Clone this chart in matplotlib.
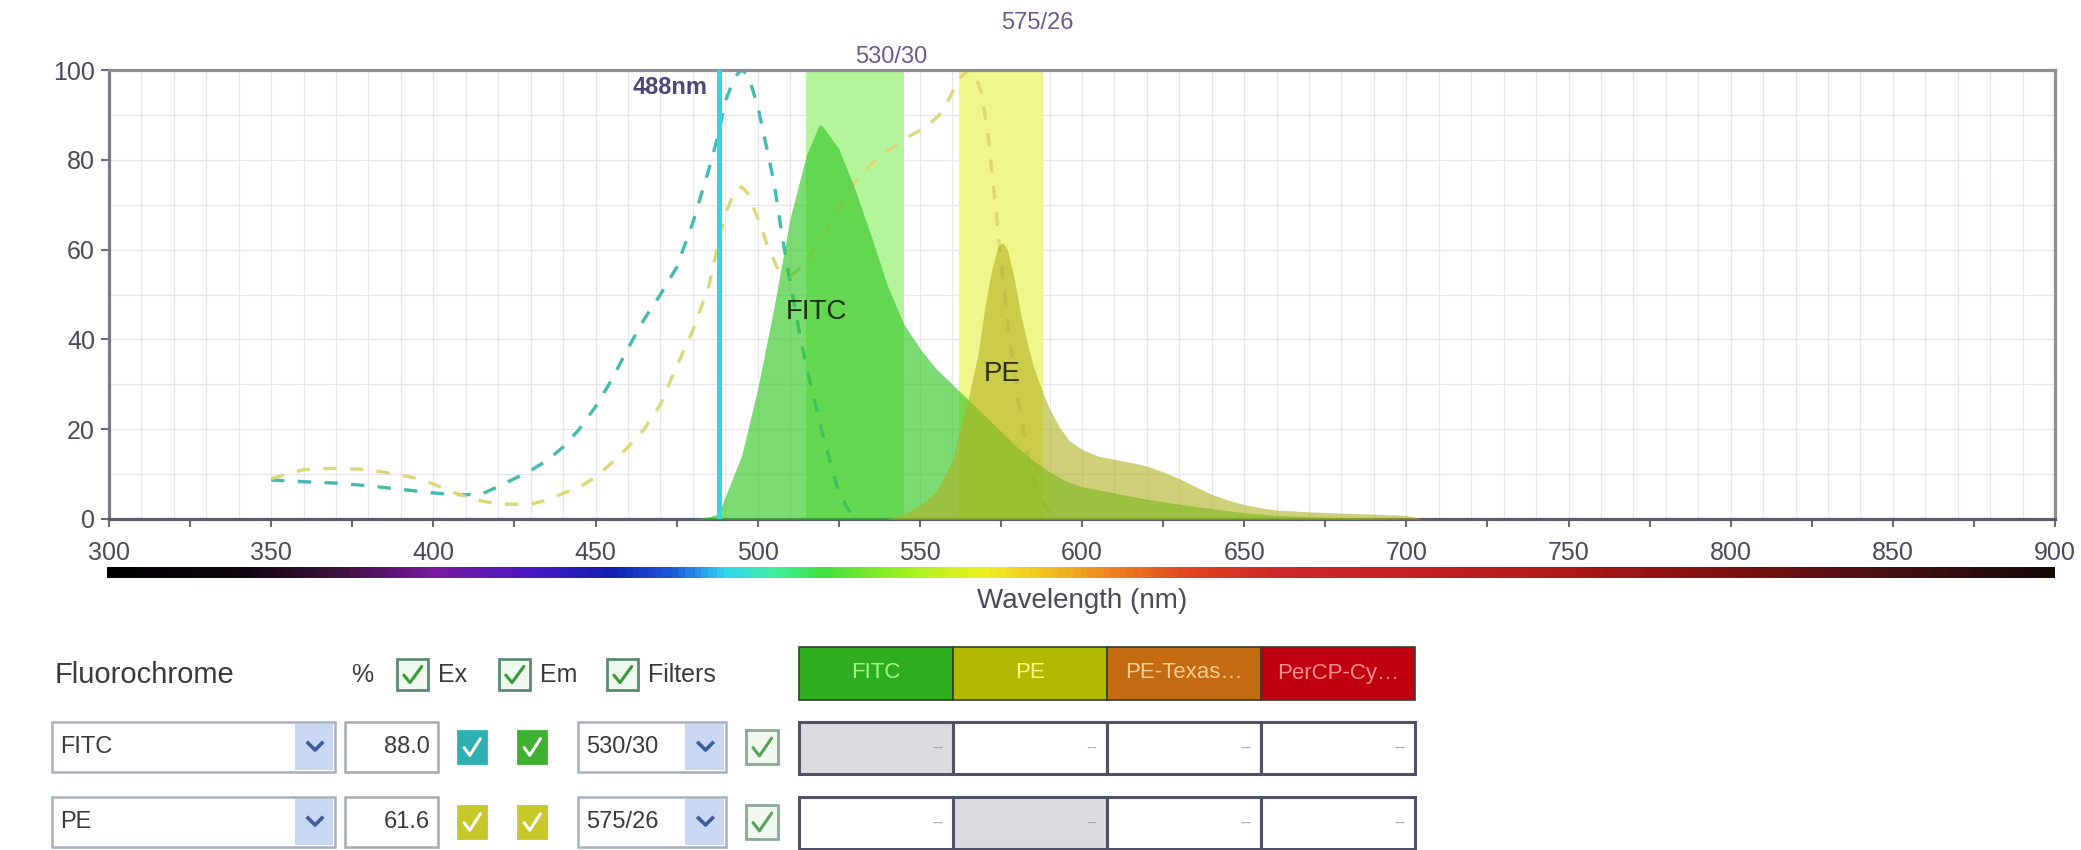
import numpy as np
import matplotlib
matplotlib.use("Agg")
import matplotlib.pyplot as plt
from matplotlib.patches import Rectangle
from matplotlib.colors import LinearSegmentedColormap
from matplotlib.ticker import MultipleLocator, FuncFormatter
import matplotlib.transforms as mtransforms

plt.rcParams['font.family'] = ['Liberation Sans', 'DejaVu Sans']

# ---------------- data ----------------
fitc_em_nm = [480, 485, 488, 490, 495, 500, 505, 510, 515, 519, 520, 525, 530, 535, 540,
              545, 550, 555, 560, 565, 570, 575, 580, 585, 590, 595, 600, 610, 620, 630,
              640, 650, 660, 670, 680, 690, 700]
fitc_em = [0, 0.5, 1.2, 5, 14, 29, 47, 67, 81, 87.8, 87.5, 82.5, 73.5, 63, 52,
           43.5, 38, 33.5, 30, 26.5, 23, 19.5, 16, 13, 10.5, 8.5, 7.2, 5.8, 4.4, 3.3,
           2.3, 1.4, 0.8, 0.5, 0.3, 0.2, 0]

pe_em_nm = [540, 545, 550, 555, 560, 565, 568, 570, 572, 574, 575.5, 577, 579, 581, 583,
            585, 588, 590, 593, 596, 600, 605, 610, 615, 620, 625, 630, 635, 640, 645,
            650, 655, 660, 670, 680, 690, 700, 705]
pe_em = [0, 1, 3, 6, 13, 27, 37, 47, 55, 60.5, 61.6, 60, 54, 46, 39.5,
         34, 28, 24.5, 20.5, 17.5, 15.5, 14, 13.3, 12.6, 11.8, 10.5, 9, 7.2, 5.5, 4.2,
         3.2, 2.5, 2, 1.6, 1.3, 1.1, 0.8, 0]

fitc_ex_nm = [350, 360, 370, 380, 390, 400, 405, 410, 415, 420, 425, 430, 435, 440, 445,
              450, 455, 460, 465, 470, 475, 480, 485, 488, 490, 493, 495, 497, 500, 503,
              505, 508, 510, 513, 515, 518, 520, 523, 525, 528, 530]
fitc_ex = [8.7, 8.3, 8.0, 7.4, 6.6, 5.8, 5.5, 5.4, 5.6, 7.2, 9, 10.8, 13, 16, 20,
           25, 31, 38, 44.5, 50, 56, 66, 78, 86, 93, 98.5, 100, 99, 92, 82,
           75, 61, 53, 41, 34, 25, 19, 11, 6, 2, 0.5]

pe_ex_nm = [350, 360, 370, 380, 390, 395, 400, 405, 410, 415, 420, 430, 435, 440, 445,
            450, 455, 460, 465, 470, 475, 480, 485, 488, 490, 493, 495, 497, 500, 503,
            506, 510, 515, 520, 525, 530, 535, 540, 546, 550, 553, 556, 559, 562, 565,
            567, 569, 571, 573, 575, 577, 580, 583, 586, 590, 595]
pe_ex = [9, 11, 11.3, 11, 9.8, 9, 7.8, 6.2, 5, 4, 3.3, 3.3, 4.2, 5.7, 7.1,
         9.3, 12.5, 16, 20, 25.5, 34, 42, 52, 62, 68, 73, 74, 72.5, 67, 61,
         56, 54, 57, 63, 69, 75, 79, 82, 85, 86.5, 88, 90, 93.5, 98, 100,
         99, 95, 86, 72, 58, 44, 28, 15, 6, 1.5, 0]

laser_nm = 488
laser_label = "488nm"
filter_names = ["530/30", "575/26"]
filter_centers = [530, 575]
filter_widths = [30, 26]

dye_names = ["FITC", "PE"]
dye_percent = [88.0, 61.6]
dye_filters = ["530/30", "575/26"]
matrix_dyes = ["FITC", "PE", "PE-Texas…", "PerCP-Cy…"]

# ---------------- figure ----------------
W, H = 2081, 850
fig = plt.figure(figsize=(W / 100, H / 100), dpi=100)
fig.patch.set_facecolor('white')


def px_axes(x0, y0, x1, y1):
    return fig.add_axes([x0 / W, 1 - y1 / H, (x1 - x0) / W, (y1 - y0) / H])


# UI overlay (layout only)
ui = fig.add_axes([0, 0, 1, 1])
ui.set_xlim(0, W)
ui.set_ylim(H, 0)
ui.axis('off')

ax = px_axes(109, 70, 2055, 519)
ax.set_xlim(300, 900)
ax.set_ylim(0, 100)

# filter bands
band_colors = ['#b4f59c', '#f1f68a']
for name, c, w, col in zip(filter_names, filter_centers, filter_widths, band_colors):
    ax.axvspan(c - w / 2, c + w / 2, color=col, lw=0, zorder=1)

blend = mtransforms.blended_transform_factory(ax.transData, ax.transAxes)
label_y = [1.016, 1.092]
for name, c, yy in zip(filter_names, filter_centers, label_y):
    ax.text(c, yy, name, transform=blend, ha='left', va='baseline',
            fontsize=17, color='#6a5a8a', clip_on=False)

# excitation (dashed)
ax.plot(fitc_ex_nm, fitc_ex, ls=(0, (4, 4)), lw=2.4, color='#45b9b4', zorder=2)
ax.plot(pe_ex_nm, pe_ex, ls=(0, (4, 4)), lw=2.4, color='#dcd878', zorder=2)

# emission fills
ax.fill_between(fitc_em_nm, fitc_em, 0, color='#38c828', alpha=0.65, lw=0, zorder=3)
ax.fill_between(pe_em_nm, pe_em, 0, color='#b0b020', alpha=0.60, lw=0, zorder=4)

ax.text(518, 46, "FITC", ha='center', va='center', fontsize=20, color='#1e2e10', zorder=6)
ax.text(575.3, 32.4, "PE", ha='center', va='center', fontsize=20, color='#2e2e10', zorder=6)

# laser line
ax.axvline(laser_nm, color='#2ed6e6', lw=3.6, zorder=5)
ax.text(laser_nm - 3.5, 94.6, laser_label, ha='right', va='baseline', fontsize=17,
        color='#4e4476', fontweight='bold', zorder=6)

# ticks & grid
ax.xaxis.set_major_locator(MultipleLocator(25))
ax.xaxis.set_minor_locator(MultipleLocator(10))
ax.xaxis.set_major_formatter(FuncFormatter(lambda v, p: f"{int(round(v))}" if round(v) % 50 == 0 else ""))
ax.yaxis.set_major_locator(MultipleLocator(20))
ax.yaxis.set_minor_locator(MultipleLocator(10))
ax.xaxis.remove_overlapping_locs = False
ax.yaxis.remove_overlapping_locs = False
ax.set_axisbelow(True)
ax.grid(which='major', visible=False)
ax.grid(which='minor', color='#e6e6ee', lw=0.9)
ax.tick_params(which='major', direction='out', length=6, width=1.5, color='#6a6a78',
               labelsize=18, labelcolor='#4a4a5a')
ax.tick_params(axis='x', which='major', pad=10)
ax.tick_params(axis='y', which='major', pad=4)
ax.tick_params(which='minor', length=0)
for side, col in [('top', '#8e8e94'), ('bottom', '#5c5c6a'), ('left', '#7c7c88'), ('right', '#8e8e94')]:
    ax.spines[side].set_color(col)
    ax.spines[side].set_linewidth(2.3)

ax.set_xlabel("Wavelength (nm)", fontsize=20, color='#4a4a5a')
ax.xaxis.set_label_coords(0.5, (519 - 601) / 449)
ax.xaxis.label.set_va('center')

# wavelength colour strip (decoration)
strip_anchors = [(300, '#000000'), (340, '#100510'), (370, '#401040'), (400, '#7a1aa0'),
                 (430, '#4a18c8'), (455, '#1020b0'), (475, '#2060e0'), (490, '#30d8f0'),
                 (505, '#40f0a0'), (520, '#40e040'), (545, '#a0f020'), (570, '#f0f020'),
                 (590, '#f0c020'), (610, '#f08020'), (635, '#e04020'), (660, '#d02828'),
                 (700, '#c82020'), (750, '#b01818'), (800, '#801010'), (850, '#481010'),
                 (900, '#180808')]
cmap = LinearSegmentedColormap.from_list(
    'wl', [((n - 300) / 600, c) for n, c in strip_anchors])
sax = px_axes(107, 567, 2055, 578)
sax.imshow(np.linspace(0, 1, 600)[None, :], cmap=cmap, aspect='auto', extent=[300, 900, 0, 1])
sax.axis('off')

# ---------------- UI table below ----------------
TXT = '#3a3a3a'


def checkbox(x, y, w, h, face, edge, tick, lw=2.0):
    ui.add_patch(Rectangle((x, y), w, h, facecolor=face, edgecolor=edge, lw=lw))
    ui.plot([x + 0.22 * w, x + 0.42 * w, x + 0.80 * w],
            [y + 0.52 * h, y + 0.76 * h, y + 0.24 * h], color=tick, lw=2.2,
            solid_capstyle='round')


def dropdown(x0, x1, y0, y1, arrow_w, text):
    ui.add_patch(Rectangle((x0, y0), x1 - x0, y1 - y0, facecolor='white',
                           edgecolor='#a8aec0', lw=1.8))
    ui.add_patch(Rectangle((x1 - arrow_w, y0 + 2), arrow_w - 2, y1 - y0 - 4,
                           facecolor='#c9d8f2', edgecolor='none'))
    cx, cy = x1 - arrow_w / 2, (y0 + y1) / 2
    ui.plot([cx - 7, cx, cx + 7], [cy - 4, cy + 3, cy - 4], color='#3c5c9c', lw=2.6)
    ui.text(x0 + 8, cy, text, ha='left', va='center', fontsize=17, color=TXT)


ui.text(55, 675, "Fluorochrome", ha='left', va='center', fontsize=21, color=TXT)
ui.text(362, 675, "%", ha='center', va='center', fontsize=18, color=TXT)
for bx, lab in [(397, "Ex"), (499, "Em"), (607, "Filters")]:
    checkbox(bx, 659, 31, 31, '#eef8ee', '#5a8a72', '#3a9a3a')
    ui.text(bx + 41, 675, lab, ha='left', va='center', fontsize=18, color=TXT)

ex_colors = ['#2fb0b0', '#c8c82a']
em_colors = ['#40b030', '#c8c82a']
for i, (dye, pct, flt) in enumerate(zip(dye_names, dye_percent, dye_filters)):
    y0 = 722 + i * 75
    y1 = y0 + 50
    cy = (y0 + y1) / 2
    dropdown(52, 335, y0, y1, 40, dye)
    ui.add_patch(Rectangle((345, y0), 93, 50, facecolor='white', edgecolor='#a8a8b0', lw=1.8))
    ui.text(430, cy, f"{pct:.1f}", ha='right', va='center', fontsize=17, color=TXT)
    checkbox(458, cy - 16, 28, 32, ex_colors[i], ex_colors[i], 'white')
    checkbox(518, cy - 16, 28, 32, em_colors[i], em_colors[i], 'white')
    dropdown(578, 726, y0, y1, 41, flt)
    checkbox(746, cy - 17, 32, 34, '#f0f8f0', '#8aa898', '#5aa05a')

# spillover matrix
head_bg = ['#2eae1e', '#b5b800', '#c46a10', '#c00010']
head_fg = ['#a8ff88', '#ffff88', '#ffd090', '#ff9090']
cw = 154
for j, (name, bg, fg) in enumerate(zip(matrix_dyes, head_bg, head_fg)):
    x0 = 799 + j * cw
    ui.add_patch(Rectangle((x0, 647), cw, 53, facecolor=bg, edgecolor='#30402a', lw=1.2))
    ui.text(x0 + cw / 2, 673, name, ha='center', va='center', fontsize=16, color=fg)
    for i in range(len(dye_names)):
        y0 = 722 + i * 75
        face = '#dcdce0' if i == j else 'white'
        ui.add_patch(Rectangle((x0, y0), cw, 52, facecolor=face, edgecolor='#505068', lw=2.2))
        ui.text(x0 + cw - 10, y0 + 26, "--", ha='right', va='center', fontsize=12,
                color='#a0a0a8')

fig.savefig("out.png", dpi=100, facecolor='white')
